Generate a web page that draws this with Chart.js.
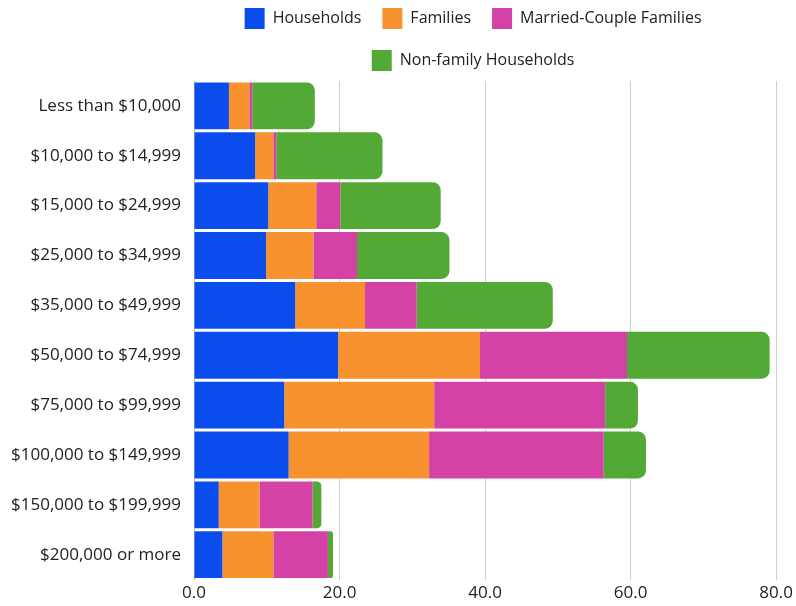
<!DOCTYPE html>
<html>
<head>
<meta charset="utf-8">
<script src="https://cdn.jsdelivr.net/npm/chart.js@4.4.1/dist/chart.umd.min.js"></script>
<style>
  html, body { margin: 0; padding: 0; background: #fff; }
  #wrap { width: 796px; height: 606px; }
</style>
</head>
<body>
<div id="wrap"><canvas id="incomeChart" width="796" height="606"></canvas></div>
<script>
// ── DATA ───────────────────────────────────────────────────────
const incomeBands = [
  'Less than $10,000', '$10,000 to $14,999', '$15,000 to $24,999', '$25,000 to $34,999',
  '$35,000 to $49,999', '$50,000 to $74,999', '$75,000 to $99,999', '$100,000 to $149,999',
  '$150,000 to $199,999', '$200,000 or more'
];
const households   = [4.8, 8.4, 10.2, 9.9, 13.9, 19.8, 12.4, 13.0, 3.4, 3.9];
const families     = [2.8, 2.5, 6.6, 6.5, 9.6, 19.5, 20.6, 19.3, 5.6, 7.0];
const marriedCouple = [0.4, 0.4, 3.3, 6.0, 7.1, 20.2, 23.5, 24.0, 7.3, 7.5];
const nonFamily    = [8.6, 14.6, 13.8, 12.7, 18.7, 19.6, 4.5, 5.8, 1.2, 0.7];
const xTicks = [0, 20, 40, 60, 80];

const FONT = '"Open Sans", Lato, sans-serif';

const bar = (label, data, color, extra) => Object.assign({
  label, data, backgroundColor: color, borderWidth: 0,
  barPercentage: 0.94, categoryPercentage: 1.0
}, extra || {});

// nudge the wrapped legend a little left, like the original
const legendShift = {
  id: 'legendShift',
  afterLayout(chart) {
    const lg = chart.legend;
    if (lg) { lg.left -= 12; lg.right -= 12; }
  }
};

// ── CHART ──────────────────────────────────────────────────────
const ctx = document.getElementById('incomeChart').getContext('2d');
new Chart(ctx, {
  type: 'bar',
  data: {
    labels: incomeBands,
    datasets: [
      bar('Households', households, '#0b4ced'),
      bar('Families', families, '#f7922e'),
      bar('Married-Couple Families', marriedCouple, '#d542a5'),
      bar('Non-family Households', nonFamily, '#53a936', { borderRadius: 8, borderSkipped: 'start' })
    ]
  },
  plugins: [legendShift],
  options: {
    responsive: false,
    animation: false,
    indexAxis: 'y',
    layout: { padding: { left: 4, right: 0, top: -13, bottom: 0 } },
    plugins: {
      legend: {
        position: 'top',
        fullSize: false,
        labels: {
          boxWidth: 20, boxHeight: 21, padding: 21,
          color: '#222', font: { family: FONT, size: 16 }
        }
      },
      tooltip: { enabled: false }
    },
    scales: {
      x: {
        stacked: true, min: 0, max: 80,
        afterBuildTicks: axis => { axis.ticks = xTicks.map(v => ({ value: v })); },
        grid: { color: '#d0d0d0', drawTicks: false },
        border: { display: false },
        ticks: { color: '#222', padding: 3, font: { family: FONT, size: 17 }, callback: v => Number(v).toFixed(1) }
      },
      y: {
        stacked: true,
        afterFit: axis => { axis.width = 190; },
        grid: { display: false },
        border: { display: true, color: '#bbb' },
        ticks: { color: '#222', padding: 5, font: { family: FONT, size: 17 } }
      }
    }
  }
});
</script>
</body>
</html>
